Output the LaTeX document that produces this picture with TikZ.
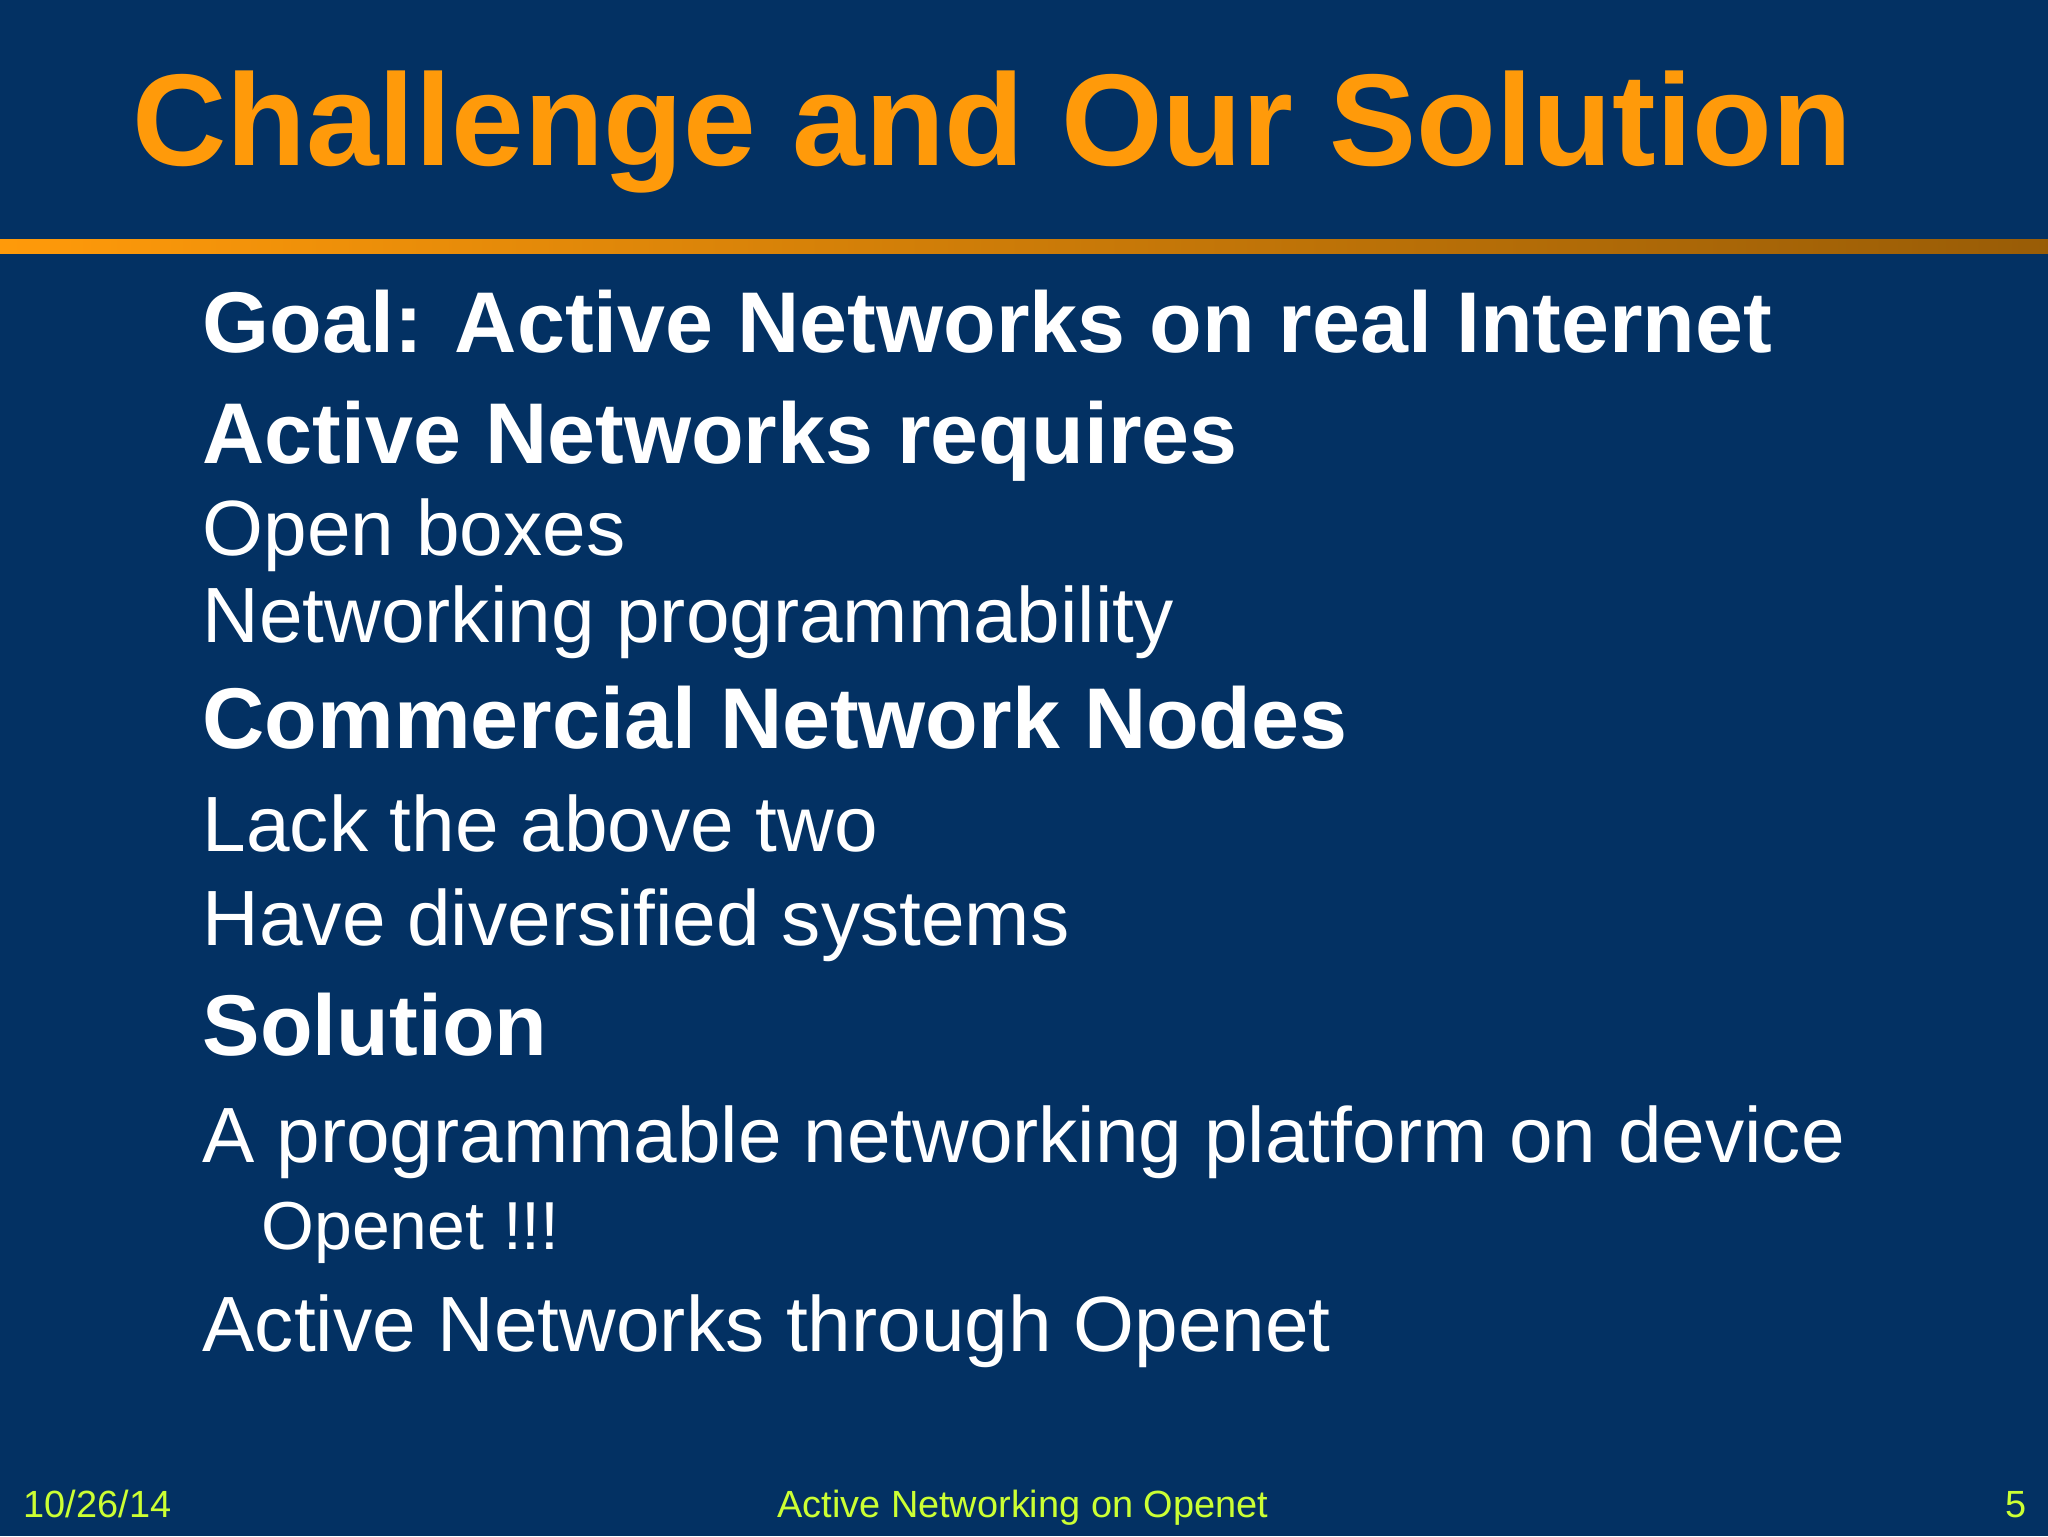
\documentclass[tikz,border=0pt]{standalone}
\usepackage{fontspec}
\setmainfont{Liberation Sans}
\definecolor{bg}{HTML}{033163}
\definecolor{ttl}{HTML}{FF9A0A}
\definecolor{foot}{HTML}{CCFF33}
\begin{document}
\begin{tikzpicture}[x=1pt,y=-1pt,
  fs/.style={font=\fontsize{#1}{#1}\selectfont},
  txt/.style={anchor=base west,inner sep=0pt,text=white},
  hd/.style={txt,fs=66,font=\fontsize{66}{66}\selectfont\bfseries},
  it/.style={txt,font=\fontsize{60}{60}\selectfont}]
\useasboundingbox (0,0) rectangle (1568,1176);
\fill[bg] (0,0) rectangle (1568,1176);
\shade[left color=ttl,right color=ttl!60!black] (0,183) rectangle (1568,194);
\node[anchor=base west,inner sep=0pt,text=ttl,font=\fontsize{100}{100}\selectfont\bfseries] (title) at (101,127) {Challenge and Our Solution};
\node[hd] (h1) at (155,270) {Goal: Active Networks on real Internet};
\node[hd] (h2) at (155,355) {Active Networks requires};
\node[it] (i1) at (155,425) {Open boxes};
\node[it] (i2) at (155,492) {Networking programmability};
\node[hd] (h3) at (155,573) {Commercial Network Nodes};
\node[it] (i3) at (155,652) {Lack the above two};
\node[it] (i4) at (155,724) {Have diversified systems};
\node[hd] (h4) at (155,808) {Solution};
\node[it] (i5) at (155,890) {A programmable networking platform on device};
\node[txt,font=\fontsize{52}{52}\selectfont] (i6) at (200,957) {Openet !!!};
\node[it] (i7) at (155,1035) {Active Networks through Openet};
\node[anchor=base west,inner sep=0pt,text=foot,font=\fontsize{29}{29}\selectfont] (f1) at (18,1162) {10/26/14};
\node[anchor=base,inner sep=0pt,text=foot,font=\fontsize{29}{29}\selectfont] (f2) at (783,1162) {Active Networking on Openet};
\node[anchor=base east,inner sep=0pt,text=foot,font=\fontsize{29}{29}\selectfont] (f3) at (1552,1162) {5};
\end{tikzpicture}
\end{document}
